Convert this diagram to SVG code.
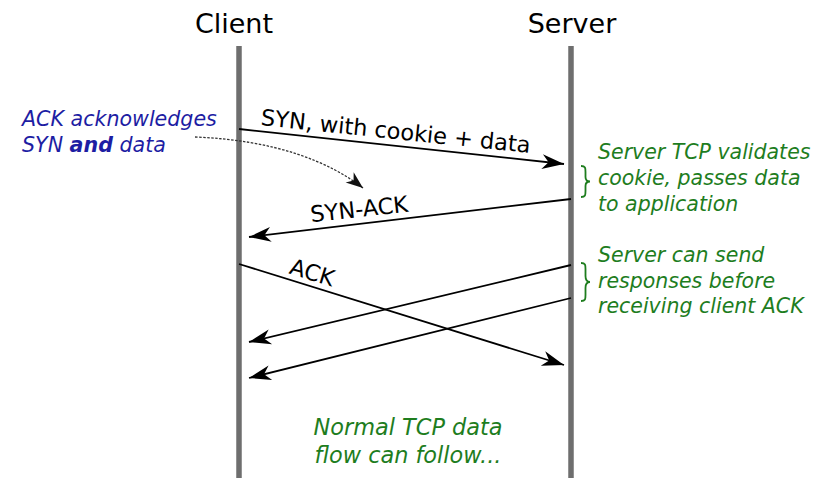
<svg xmlns="http://www.w3.org/2000/svg" width="830" height="478" viewBox="0 0 830 478">
  <style>
    text { font-family: "DejaVu Sans", "Liberation Sans", sans-serif; }
    .title { font-size: 27px; fill: #000; }
    .msg { font-size: 22.5px; fill: #000; }
    .note-blue { font-size: 20.6px; font-style: italic; fill: #1d1da3; }
    .note-green { font-size: 20.5px; font-style: italic; fill: #1e7d1e; }
    .foot { font-size: 22.4px; font-style: italic; fill: #1e7d1e; }
    .lifeline { stroke: #6e6e6e; stroke-width: 5.5; fill: none; }
    .arrow { stroke: #000; stroke-width: 1.8; fill: none; marker-end: url(#head); }
    .hint { stroke: #333; stroke-width: 1.3; stroke-dasharray: 2.5 1.5; fill: none; marker-end: url(#headSmall); }
    .brace { stroke: #1e7d1e; stroke-width: 1.8; fill: none; }
  </style>
  <defs>
    <marker id="head" markerUnits="userSpaceOnUse" markerWidth="24" markerHeight="16" viewBox="-22 -8 24 16" refX="0" refY="0" orient="auto" overflow="visible">
      <path d="M0,0 L-22,-7.5 L-15.5,0 L-22,7.5 Z" fill="#000"/>
    </marker>
    <marker id="headSmall" markerUnits="userSpaceOnUse" markerWidth="20" markerHeight="14" viewBox="-18 -7 20 14" refX="0" refY="0" orient="auto" overflow="visible">
      <path d="M0,0 L-17,-6.5 L-12,0 L-17,6.5 Z" fill="#111"/>
    </marker>
  </defs>

  <rect width="830" height="478" fill="#fff"/>

  <g id="client">
    <text class="title" x="234" y="33" text-anchor="middle">Client</text>
    <line class="lifeline" x1="239" y1="46" x2="239" y2="478"/>
  </g>

  <g id="server">
    <text class="title" x="572" y="33" text-anchor="middle">Server</text>
    <line class="lifeline" x1="571" y1="46" x2="571" y2="478"/>
  </g>

  <g id="connectors">
    <!-- SYN with cookie and data -->
    <line class="arrow" x1="239" y1="129" x2="564" y2="164"/>
    <!-- SYN-ACK -->
    <line class="arrow" x1="571" y1="199" x2="249" y2="237"/>
    <!-- ACK -->
    <line class="arrow" x1="239" y1="264" x2="564" y2="365"/>
    <!-- early responses -->
    <line class="arrow" x1="571" y1="265" x2="249" y2="342"/>
    <line class="arrow" x1="571" y1="298" x2="249" y2="378"/>
    <!-- note pointer -->
    <path class="hint" d="M195,137 C275,140 330,162 363,188"/>
  </g>

  <g id="labels">
    <text class="msg" transform="translate(395,139) rotate(5.9)" text-anchor="middle">SYN, with cookie + data</text>
    <text class="msg" transform="translate(360,217) rotate(-6.3)" text-anchor="middle">SYN-ACK</text>
    <text class="msg" transform="translate(310,280) rotate(17)" text-anchor="middle">ACK</text>
  </g>

  <g id="note-ack">
    <text class="note-blue" x="22" y="126">ACK acknowledges</text>
    <text class="note-blue" x="22" y="152">SYN <tspan font-weight="bold">and</tspan> data</text>
  </g>

  <g id="note-validate">
    <path class="brace" d="M581,166 C585.5,166 585.5,168 585.5,172 L585.5,177 C585.5,180 586.5,181.5 590,181.5 C586.5,181.5 585.5,183 585.5,186 L585.5,191 C585.5,195 585.5,197 581,197"/>
    <text class="note-green" x="598" y="159">Server TCP validates</text>
    <text class="note-green" x="598" y="185">cookie, passes data</text>
    <text class="note-green" x="598" y="211">to application</text>
  </g>

  <g id="note-responses">
    <path class="brace" d="M581,263 C585.5,263 585.5,265 585.5,269 L585.5,276 C585.5,280 586.5,282 590,282 C586.5,282 585.5,284 585.5,288 L585.5,295 C585.5,299 585.5,301 581,301"/>
    <text class="note-green" x="598" y="262">Server can send</text>
    <text class="note-green" x="598" y="288">responses before</text>
    <text class="note-green" x="598" y="313">receiving client ACK</text>
  </g>

  <g id="note-follow">
    <text class="foot" x="408" y="435" text-anchor="middle">Normal TCP data</text>
    <text class="foot" x="408" y="463" text-anchor="middle">flow can follow...</text>
  </g>
</svg>
